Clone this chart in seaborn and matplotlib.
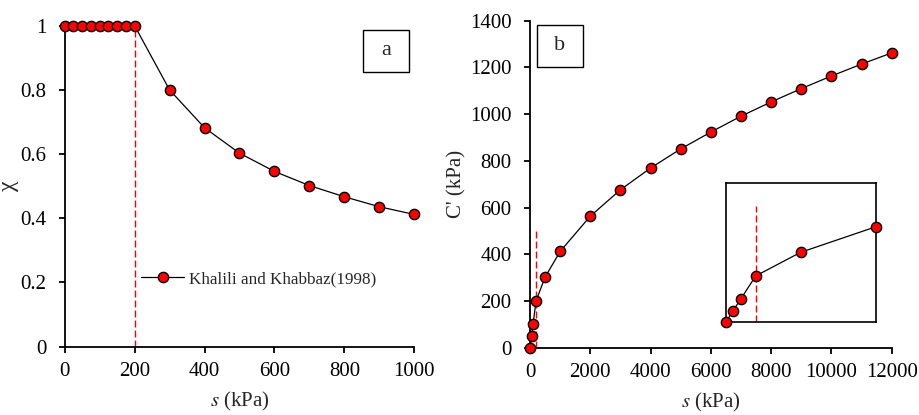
import numpy as np
import pandas as pd
import matplotlib
matplotlib.use("Agg")
import matplotlib.pyplot as plt
from matplotlib.patches import Rectangle
import seaborn as sns

# Panel a data
s_a = [0, 25, 50, 75, 100, 125, 150, 175, 200, 300, 400, 500, 600, 700, 800, 900, 1000]
chi_a = [1, 1, 1, 1, 1, 1, 1, 1, 1, 0.80, 0.682, 0.603, 0.546, 0.502, 0.467, 0.436, 0.412]

# Panel b data
s_b = [0, 50, 100, 200, 500, 1000, 2000, 3000, 4000, 5000, 6000, 7000, 8000, 9000, 10000, 11000, 12000]
c_b = [0, 50, 100, 200, 302, 412, 563, 676, 769, 851, 923, 991, 1052, 1109, 1163, 1214, 1262]

s_e = 200
inset_max_s = 1000
a_xticks = [0, 200, 400, 600, 800, 1000]
a_yticks = [0, 0.2, 0.4, 0.6, 0.8, 1]
a_yticklabels = ["0", "0.2", "0.4", "0.6", "0.8", "1"]
b_xticks = [0, 2000, 4000, 6000, 8000, 10000, 12000]
b_yticks = [0, 200, 400, 600, 800, 1000, 1200, 1400]

sns.set_theme(style="ticks")
plt.rcParams["font.family"] = ["Liberation Serif", "DejaVu Serif"]
plt.rcParams["mathtext.fontset"] = "stix"
plt.rcParams["axes.linewidth"] = 1.3
plt.rcParams["xtick.major.width"] = 1.3
plt.rcParams["ytick.major.width"] = 1.3
plt.rcParams["xtick.major.size"] = 4.2
plt.rcParams["ytick.major.size"] = 4.2
plt.rcParams["xtick.major.pad"] = 6.5
plt.rcParams["ytick.major.pad"] = 9
plt.rcParams["xtick.color"] = "black"
plt.rcParams["ytick.color"] = "black"
plt.rcParams["axes.edgecolor"] = "black"

df_a = pd.DataFrame({"s": s_a, "chi": chi_a})
df_b = pd.DataFrame({"s": s_b, "c": c_b})
df_inset = df_b[df_b["s"] <= inset_max_s]

fig = plt.figure(figsize=(9.2, 4.15), dpi=100)
ax1 = fig.add_axes([0.0703, 0.1646, 0.380, 0.7735])
ax2 = fig.add_axes([0.5761, 0.1622, 0.3931, 0.788])
ax3 = fig.add_axes([0.7888, 0.2234, 0.163, 0.335])

mk = dict(marker="o", markersize=7.4, markerfacecolor="red", markeredgecolor="black",
          markeredgewidth=1.0, color="black", linewidth=0.9)
dash = dict(color="red", linestyle=(0, (5, 2.2)), linewidth=1.0, zorder=1)

fs = 15
# Panel a
ax1.plot([s_e, s_e], [0, 1], **dash)
sns.lineplot(data=df_a, x="s", y="chi", ax=ax1, sort=False, estimator=None,
             label="Khalili and Khabbaz(1998)", clip_on=False, zorder=3, **mk)
ax1.set_xlim(0, 1000)
ax1.set_ylim(0, 1)
ax1.set_xticks(a_xticks)
ax1.set_yticks(a_yticks)
ax1.set_yticklabels(a_yticklabels)
ax1.tick_params(labelsize=fs)
ax1.set_xlabel(r"$s$ (kPa)", fontsize=fs, labelpad=7)
ax1.set_ylabel("χ", fontsize=fs + 2)
ax1.yaxis.set_label_coords(-0.13, 0.5)
sns.despine(ax=ax1)
ax1.legend(loc="center left", bbox_to_anchor=(0.2, 0.21), frameon=False, fontsize=12.3,
           handlelength=2.5, handletextpad=0.3, borderaxespad=0)
ax1.add_patch(Rectangle((0.852, 0.8567), 0.1333, 0.13, transform=ax1.transAxes,
                        facecolor="white", edgecolor="black", linewidth=1.0, clip_on=False))
ax1.text(0.852 + 0.1333 / 2, 0.8567 + 0.065, "a", transform=ax1.transAxes, fontsize=16,
         ha="center", va="center")

# Panel b
ax2.plot([s_e, s_e], [0, 500], **dash)
sns.lineplot(data=df_b, x="s", y="c", ax=ax2, sort=False, estimator=None,
             clip_on=False, zorder=3, **mk)
ax2.set_xlim(0, 12000)
ax2.set_ylim(0, 1400)
ax2.set_xticks(b_xticks)
ax2.set_yticks(b_yticks)
ax2.tick_params(labelsize=fs)
ax2.set_xlabel(r"$s$ (kPa)", fontsize=fs, labelpad=7)
ax2.set_ylabel("C' (kPa)", fontsize=fs)
ax2.yaxis.set_label_coords(-0.175, 0.5)
sns.despine(ax=ax2)
ax2.add_patch(Rectangle((0.0185, 0.8593), 0.127, 0.1276, transform=ax2.transAxes,
                        facecolor="white", edgecolor="black", linewidth=1.0, clip_on=False))
ax2.text(0.0185 + 0.127 / 2, 0.8593 + 0.0638, "b", transform=ax2.transAxes, fontsize=16,
         ha="center", va="center")

# Inset
ax3.plot([s_e, s_e], [0, 500], **dash)
sns.lineplot(data=df_inset, x="s", y="c", ax=ax3, sort=False, estimator=None,
             clip_on=False, zorder=3, **mk)
ax3.set_xlim(0, inset_max_s)
ax3.set_ylim(0, 600)
ax3.set_xticks([])
ax3.set_yticks([])
ax3.set_xlabel("")
ax3.set_ylabel("")
for sp in ax3.spines.values():
    sp.set_visible(True)
    sp.set_linewidth(1.2)
ax3.set_facecolor("white")

fig.savefig("out.png", dpi=100)
